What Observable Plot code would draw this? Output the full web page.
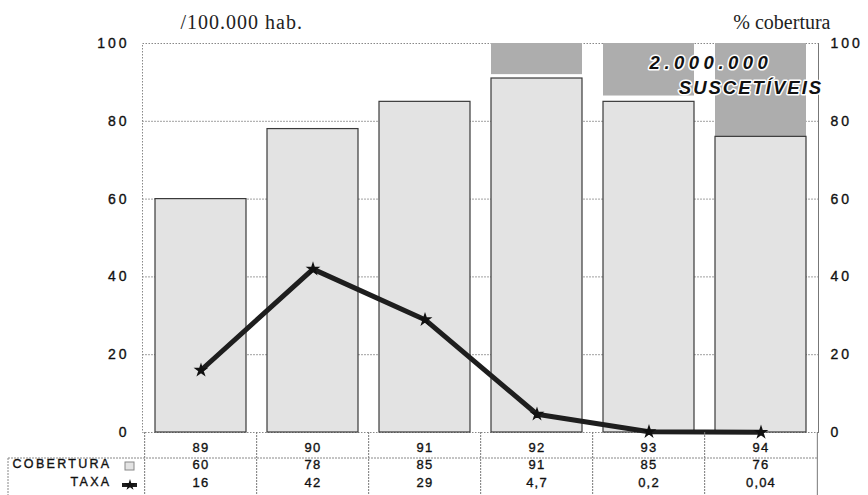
<!DOCTYPE html>
<html>
<head>
<meta charset="utf-8">
<script src="https://cdn.jsdelivr.net/npm/d3@7"></script>
<script src="https://cdn.jsdelivr.net/npm/@observablehq/plot@0.6"></script>
<style>
  html, body { margin: 0; padding: 0; background: #fff; }
  #chart svg { display: block; }
</style>
</head>
<body>
<div id="chart"></div>
<script>
// ---- data ----
const years = ["89", "90", "91", "92", "93", "94"];
const cobertura = [60, 78, 85, 91, 85, 76];
const taxa = [16, 42, 29, 4.7, 0.2, 0.04];
const taxaLabels = ["16", "42", "29", "4,7", "0,2", "0,04"];
// lower edge of the "susceptible" block (block reaches 100 %)
const suscetiveisFrom = [null, null, null, 92, 86.5, 76];
const suscetiveisTop = 100;
const yTicks = [0, 20, 40, 60, 80, 100];
const gridTicks = [20, 40, 60, 80];
const annotation = ["2.000.000", "SUSCETÍVEIS"];
const rowLabels = ["COBERTURA", "TAXA"];
const titles = ["/100.000 hab.", "% cobertura"];

const rows = years.map((y, i) => ({
  year: y, cob: cobertura[i], taxa: taxa[i], taxaLabel: taxaLabels[i],
  susc: suscetiveisFrom[i], top: suscetiveisTop
}));

// ---- layout ----
const W = 868, H = 495;
const mL = 142, mR = 50, mT = 43, mB = 63;
const step = (W - mL - mR) / years.length;
const font = "'Liberation Sans', Arial, sans-serif";
const serif = "'Liberation Serif', 'Times New Roman', serif";

const plot = Plot.plot({
  width: W, height: H,
  marginLeft: mL, marginRight: mR, marginTop: mT, marginBottom: mB,
  style: { fontFamily: font, color: "#111", background: "#fff", letterSpacing: "1.2px" },
  x: { domain: years, paddingInner: 0.19, paddingOuter: 0.095, label: null },
  y: { domain: [0, 100], label: null },
  marks: [
    Plot.gridY(gridTicks, { stroke: "#777", strokeOpacity: 0.7, strokeDasharray: "2,1" }),
    Plot.frame({ stroke: "#888", strokeDasharray: "1.5,1.5" }),
    Plot.frame({ anchor: "right", stroke: "#777" }),
    Plot.barY(rows.filter(d => d.susc != null), { x: "year", y1: "susc", y2: "top", fill: "#adadad" }),
    Plot.barY(rows, { x: "year", y: "cob", fill: "#e3e3e3", stroke: "#3a3a3a", strokeWidth: 1.2 }),
    Plot.line(rows, { x: "year", y: "taxa", stroke: "#1e1e1e", strokeWidth: 5, strokeLinejoin: "round" }),
    Plot.dot(rows, { x: "year", y: "taxa", symbol: "star", r: 3.2, fill: "#111", stroke: "#111" }),
    // left & right axes
    Plot.axisY(yTicks, { anchor: "left", tickSize: 0, tickPadding: 13, fontSize: 14, label: null }),
    Plot.axisY(yTicks, { anchor: "right", tickSize: 0, tickPadding: 12, fontSize: 14, label: null }),
    // table rows (years, cobertura, taxa)
    Plot.axisX({ anchor: "bottom", tickSize: 0, tickPadding: 10, fontSize: 13, label: null }),
    Plot.axisX({ anchor: "bottom", tickSize: 0, tickPadding: 27.5, fontSize: 13, label: null,
      tickFormat: d => String(cobertura[years.indexOf(d)]) }),
    Plot.axisX({ anchor: "bottom", tickSize: 0, tickPadding: 45, fontSize: 13, label: null,
      tickFormat: d => taxaLabels[years.indexOf(d)] }),
    // table column separators
    Plot.axisX({ anchor: "bottom", tickSize: mB, dx: -step / 2, tickFormat: () => "", label: null,
      stroke: "#777", strokeDasharray: "2,1" }),
    Plot.axisX([years[years.length - 1]], { anchor: "bottom", tickSize: mB, dx: step / 2, tickFormat: () => "",
      label: null, stroke: "#777" }),
    // row labels
    Plot.text([rowLabels[0]], { frameAnchor: "bottom-left", dx: -31, dy: 35, textAnchor: "end", fontSize: 12.5 }),
    Plot.text([rowLabels[1]], { frameAnchor: "bottom-left", dx: -31, dy: 53, textAnchor: "end", fontSize: 12.5 }),
    // titles
    Plot.text([titles[0]], { frameAnchor: "top-left", dx: 38, dy: -15, lineAnchor: "bottom",
      textAnchor: "start", fontSize: 20, fontFamily: serif, fill: "#222" }),
    Plot.text([titles[1]], { frameAnchor: "top-right", dx: 12, dy: -15, lineAnchor: "bottom",
      textAnchor: "end", fontSize: 20, fontFamily: serif, fill: "#222" }),
    // annotation
    Plot.text([annotation[0]], { x: () => "94", y: () => 95, dx: -50, fontSize: 18.5, fontWeight: "bold",
      fontStyle: "italic", fill: "#111", stroke: "white", strokeWidth: 3, paintOrder: "stroke" }),
    Plot.text([annotation[1]], { x: () => "94", y: () => 88.5, dx: -10, fontSize: 18.5, fontWeight: "bold",
      fontStyle: "italic", fill: "#111", stroke: "white", strokeWidth: 3, paintOrder: "stroke" })
  ]
});

document.getElementById("chart").appendChild(plot);

const svg = d3.select(plot);
// per-text letter spacing (Plot has no letterSpacing mark option)
const spacing = new Map([
  [annotation[0], "4.5px"], [annotation[1], "2px"],
  [rowLabels[0], "2.3px"], [rowLabels[1], "2.3px"],
  [titles[0], "1px"], [titles[1], "0px"]
]);
svg.selectAll("text").each(function () {
  const t = this.textContent;
  if (spacing.has(t)) this.style.letterSpacing = spacing.get(t);
  if (rowLabels.includes(t)) { this.style.stroke = "#111"; this.style.strokeWidth = "0.35px"; }
});
svg.selectAll("g[aria-label='y-axis tick label'] text").style("letter-spacing", "3px");
svg.selectAll("g[aria-label$='tick label'] text").style("stroke", "#111").style("stroke-width", "0.35px");

// table outline + legend glyphs
const base = H - mB;
const rowLineY = base + 26;
svg.append("line").attr("x1", 8).attr("x2", W - mR).attr("y1", rowLineY).attr("y2", rowLineY)
  .attr("stroke", "#888").attr("stroke-dasharray", "2,1");
svg.append("line").attr("x1", 8).attr("x2", 8).attr("y1", rowLineY).attr("y2", H)
  .attr("stroke", "#888").attr("stroke-dasharray", "2,1");
svg.append("rect").attr("x", mL - 17).attr("y", base + 30).attr("width", 9).attr("height", 8)
  .attr("fill", "#e3e3e3").attr("stroke", "#888");
svg.append("line").attr("x1", mL - 20).attr("x2", mL - 5).attr("y1", base + 53).attr("y2", base + 53)
  .attr("stroke", "#1e1e1e").attr("stroke-width", 4);
svg.append("path").attr("d", d3.symbol(d3.symbolStar, 40)()).attr("transform", `translate(${mL - 12},${base + 53})`)
  .attr("fill", "#111");
</script>
</body>
</html>
